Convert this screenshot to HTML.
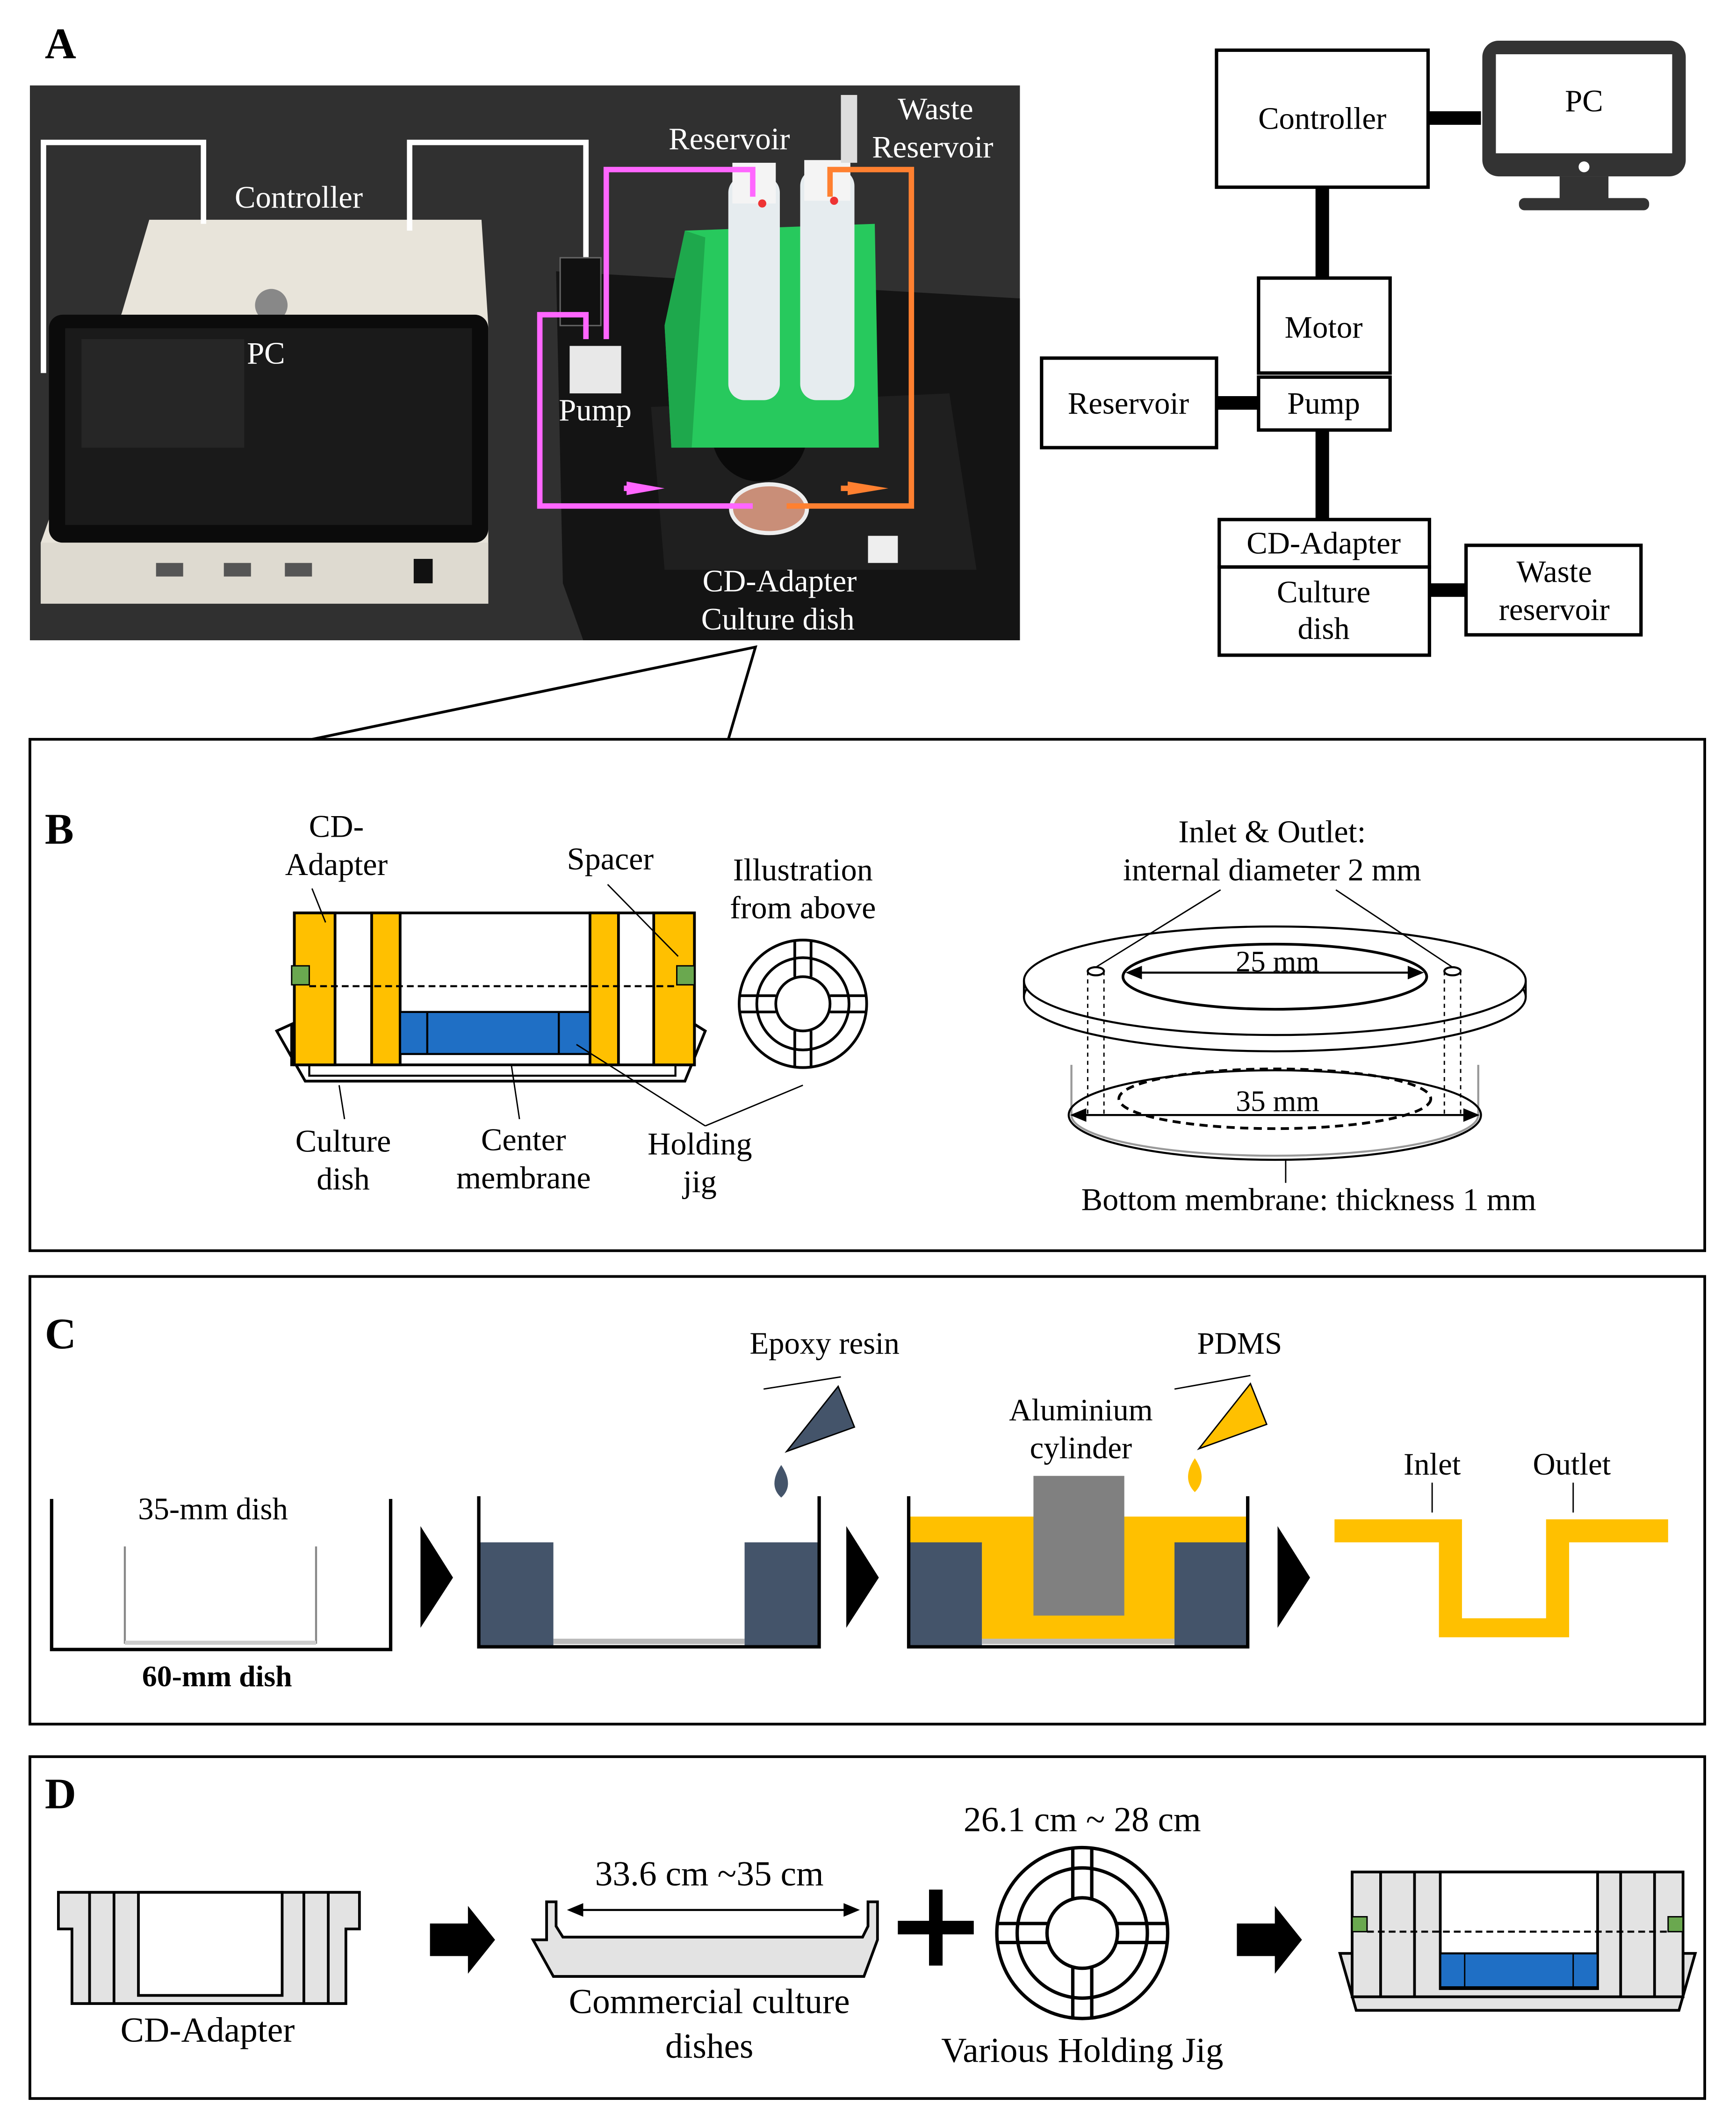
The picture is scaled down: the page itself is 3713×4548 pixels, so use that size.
<!DOCTYPE html>
<html><head><meta charset="utf-8"><style>
html,body{margin:0;padding:0;background:#fff;}
svg{display:block;}
text{font-family:"Liberation Serif",serif;}
</style></head><body>
<svg width="3713" height="4548" viewBox="0 0 1280 1568" xmlns="http://www.w3.org/2000/svg">
<rect width="1280" height="1568" fill="#fff"/>
<text x="33" y="43" font-size="32" font-weight="bold">A</text>
<!-- Photo -->
<rect x="22" y="63" width="730" height="409" fill="#2b2b2b"/>
<rect x="22" y="63" width="730" height="409" fill="#3a3a3a" opacity="0.4"/>
<polygon points="410,200 752,220 752,472 430,472 415,430" fill="#141414"/>
<polygon points="480,300 700,290 720,420 490,420" fill="#1f1f1f"/>
<circle cx="560" cy="320" r="35" fill="#0a0a0a"/>
<polygon points="110,162 355,162 360,240 360,445 30,445 30,400 90,230" fill="#e8e4da"/>
<rect x="30" y="400" width="330" height="45" fill="#dedad0"/>
<circle cx="200" cy="225" r="12" fill="#888"/>
<rect x="36" y="232" width="324" height="168" rx="10" fill="#0b0b0b"/>
<rect x="48" y="242" width="300" height="145" fill="#1a1a1a"/>
<rect x="60" y="250" width="120" height="80" fill="#262626"/>
<rect x="115" y="415" width="20" height="10" fill="#555"/><rect x="165" y="415" width="20" height="10" fill="#555"/><rect x="210" y="415" width="20" height="10" fill="#555"/>
<rect x="305" y="412" width="14" height="18" fill="#111"/>
<polyline points="32,275 32,105 150,105 150,165" fill="none" stroke="#fff" stroke-width="4"/>
<polyline points="302,170 302,105 432,105 432,190" fill="none" stroke="#fff" stroke-width="4"/>
<rect x="413" y="190" width="30" height="50" fill="#111" stroke="#666"/>
<rect x="420" y="255" width="38" height="35" fill="#e8e8e8"/>
<polygon points="505,170 645,165 648,330 495,330 490,240" fill="#27c95d"/>
<polygon points="490,240 505,170 520,175 510,330 495,330" fill="#1ea84c"/>
<rect x="537" y="130" width="38" height="165" rx="12" fill="#e6ecef"/>
<rect x="590" y="125" width="40" height="170" rx="12" fill="#e6ecef"/>
<rect x="540" y="120" width="32" height="30" fill="#f4f4f4"/>
<rect x="593" y="118" width="34" height="30" fill="#f4f4f4"/>
<rect x="620" y="70" width="12" height="50" fill="#ddd"/>
<circle cx="562" cy="150" r="3" fill="#e33"/><circle cx="615" cy="148" r="3" fill="#e33"/>
<ellipse cx="567" cy="375" rx="28" ry="18" fill="#c98e78" stroke="#eee" stroke-width="3"/>
<polyline points="555,145 555,125 447,125 447,250" fill="none" stroke="#ff66ff" stroke-width="4"/>
<polyline points="432,250 432,232 398,232 398,373 555,373" fill="none" stroke="#ff66ff" stroke-width="4"/>
<polygon points="462,355 490,360 462,365" fill="#ff66ff"/><rect x="460" y="358" width="12" height="4" fill="#ff66ff"/>
<polyline points="612,145 612,125 672,125 672,373 580,373" fill="none" stroke="#ff8030" stroke-width="4"/>
<polygon points="625,355 655,360 625,365" fill="#ff8030"/><rect x="620" y="358" width="10" height="4" fill="#ff8030"/>
<rect x="640" y="395" width="22" height="20" fill="#eee"/>
<g fill="#fff" font-size="23">
<text x="173" y="153">Controller</text>
<text x="182" y="268">PC</text>
<text x="493" y="110">Reservoir</text>
<text x="662" y="88">Waste</text>
<text x="643" y="116">Reservoir</text>
<text x="412" y="310">Pump</text>
<text x="518" y="436">CD-Adapter</text>
<text x="517" y="464">Culture dish</text>
</g>
<g stroke="#000" stroke-width="10">
<line x1="1053" y1="87" x2="1092" y2="87"/>
<line x1="975" y1="138" x2="975" y2="205"/>
<line x1="975" y1="317" x2="975" y2="383"/>
<line x1="897" y1="297" x2="928" y2="297"/>
<line x1="1054" y1="435" x2="1081" y2="435"/>
</g>
<g fill="#fff" stroke="#000" stroke-width="2.5">
<rect x="897" y="37" width="156" height="101"/>
<rect x="928" y="205" width="97" height="70"/>
<rect x="928" y="278" width="97" height="39"/>
<rect x="768" y="264" width="129" height="66"/>
<rect x="899" y="383" width="155" height="35"/>
<rect x="899" y="418" width="155" height="65"/>
<rect x="1081" y="402" width="129" height="66"/>
</g>
<rect x="1093" y="30" width="150" height="100" rx="12" fill="#333"/>
<rect x="1103" y="40" width="130" height="73" fill="#fff"/>
<circle cx="1168" cy="123" r="4" fill="#fff"/>
<rect x="1150" y="130" width="36" height="18" fill="#333"/>
<rect x="1120" y="146" width="96" height="9" rx="4" fill="#333"/>
<g font-size="23" text-anchor="middle">
<text x="975" y="95">Controller</text>
<text x="1168" y="82">PC</text>
<text x="976" y="249">Motor</text>
<text x="976" y="305">Pump</text>
<text x="832" y="305">Reservoir</text>
<text x="976" y="408">CD-Adapter</text>
<text x="976" y="444">Culture</text>
<text x="976" y="471">dish</text>
<text x="1146" y="429">Waste</text>
<text x="1146" y="457">reservoir</text>
</g>
<polyline points="230,545 557,477 537,545" fill="none" stroke="#000" stroke-width="2"/>
<g fill="none" stroke="#000" stroke-width="2">
<rect x="22" y="545" width="1235" height="377"/>
<rect x="22" y="941" width="1235" height="330"/>
<rect x="22" y="1295" width="1235" height="252"/>
</g>
<text x="33" y="622" font-size="32" font-weight="bold">B</text>
<text x="33" y="994" font-size="32" font-weight="bold">C</text>
<text x="33" y="1333" font-size="32" font-weight="bold">D</text>
<polygon points="215,755 204,760 225,797 505,797 520,760 512,755 512,785 215,785" fill="#fff" stroke="#000" stroke-width="2"/>
<rect x="228" y="785" width="270" height="8" fill="#fff" stroke="#000" stroke-width="1.5"/>
<rect x="217" y="673" width="295" height="112" fill="#fff" stroke="#000" stroke-width="2"/>
<g fill="#FFC000" stroke="#000" stroke-width="2">
<rect x="217" y="673" width="30" height="112"/>
<rect x="274" y="673" width="21" height="112"/>
<rect x="435" y="673" width="21" height="112"/>
<rect x="482" y="673" width="30" height="112"/>
</g>
<rect x="295" y="746" width="140" height="31" fill="#1f6fc5" stroke="#000" stroke-width="1.5"/>
<line x1="315" y1="746" x2="315" y2="777" stroke="#000" stroke-width="1.5"/>
<line x1="412" y1="746" x2="412" y2="777" stroke="#000" stroke-width="1.5"/>
<rect x="215" y="712" width="13" height="14" fill="#6aa84f" stroke="#000"/>
<rect x="499" y="712" width="13" height="14" fill="#6aa84f" stroke="#000"/>
<line x1="228" y1="727" x2="499" y2="727" stroke="#000" stroke-width="1.5" stroke-dasharray="5,3"/>
<g stroke="#000" stroke-width="1" fill="none">
<line x1="250" y1="800" x2="254" y2="825"/>
<line x1="377" y1="785" x2="383" y2="825"/>
<line x1="425" y1="770" x2="520" y2="830"/><line x1="520" y1="830" x2="592" y2="800"/>
<line x1="230" y1="655" x2="240" y2="680"/>
<line x1="448" y1="652" x2="500" y2="705"/>
</g>
<circle cx="592" cy="740" r="47" fill="#fff" stroke="#000" stroke-width="2"/>
<circle cx="592" cy="740" r="34" fill="none" stroke="#000" stroke-width="2"/>
<circle cx="592" cy="740" r="20" fill="none" stroke="#000" stroke-width="2"/>
<g stroke="#000" stroke-width="2"><line x1="586" y1="694" x2="586" y2="720"/><line x1="598" y1="694" x2="598" y2="720"/><line x1="586" y1="760" x2="586" y2="786"/><line x1="598" y1="760" x2="598" y2="786"/><line x1="546" y1="734" x2="572" y2="734"/><line x1="546" y1="746" x2="572" y2="746"/><line x1="612" y1="734" x2="638" y2="734"/><line x1="612" y1="746" x2="638" y2="746"/></g>
<g font-size="23.5" text-anchor="middle">
<text x="248" y="617">CD-</text><text x="248" y="645">Adapter</text>
<text x="450" y="641">Spacer</text>
<text x="592" y="649">Illustration</text><text x="592" y="677">from above</text>
<text x="253" y="849">Culture</text><text x="253" y="877">dish</text>
<text x="386" y="848">Center</text><text x="386" y="876">membrane</text>
<text x="516" y="851">Holding</text><text x="516" y="879">jig</text>
</g>
<g fill="none" stroke="#000" stroke-width="1.5">
<path d="M790,785 L790,822 A150,30 0 0 0 1090,822 L1090,785" stroke="#999"/>
<ellipse cx="940" cy="822" rx="152" ry="33"/>
<ellipse cx="940" cy="810" rx="115" ry="22" stroke-dasharray="6,4" stroke-width="2"/>
<ellipse cx="940" cy="735" rx="185" ry="40" fill="#fff"/>
<ellipse cx="940" cy="723" rx="185" ry="40" fill="#fff"/>
<ellipse cx="940" cy="720" rx="112" ry="24" stroke-width="2"/>
<line x1="755" y1="723" x2="755" y2="735"/><line x1="1125" y1="723" x2="1125" y2="735"/>
<ellipse cx="808" cy="716" rx="6" ry="3"/><ellipse cx="1071" cy="716" rx="6" ry="3"/>
<g stroke-dasharray="3,3" stroke-width="1"><line x1="802" y1="716" x2="802" y2="822"/><line x1="814" y1="716" x2="814" y2="822"/><line x1="1065" y1="716" x2="1065" y2="822"/><line x1="1077" y1="716" x2="1077" y2="822"/></g>
<line x1="808" y1="713" x2="900" y2="656" stroke-width="1"/>
<line x1="1071" y1="713" x2="985" y2="656" stroke-width="1"/>
<line x1="948" y1="855" x2="948" y2="872" stroke-width="1"/>
</g>
<g stroke="#000" stroke-width="1.5"><line x1="835" y1="717" x2="1045" y2="717"/><line x1="795" y1="822" x2="1085" y2="822"/></g>
<polygon points="830,717 842,712 842,722"/><polygon points="1050,717 1038,712 1038,722"/>
<polygon points="789,822 801,817 801,827"/><polygon points="1091,822 1079,817 1079,827"/>
<g font-size="23.5" text-anchor="middle">
<text x="938" y="621">Inlet &amp; Outlet:</text>
<text x="938" y="649">internal diameter 2 mm</text>
<text x="942" y="716" font-size="22">25 mm</text>
<text x="942" y="819" font-size="22">35 mm</text>
<text x="965" y="892">Bottom membrane: thickness 1 mm</text>
</g>
<!-- C -->
<polyline points="38,1105 38,1216 288,1216 288,1105" fill="none" stroke="#000" stroke-width="2.5"/>
<polyline points="92,1140 92,1211 233,1211 233,1140" fill="none" stroke="#888" stroke-width="1.5"/>
<line x1="92" y1="1211" x2="233" y2="1211" stroke="#ccc" stroke-width="3"/>
<text x="157" y="1120" font-size="23" text-anchor="middle">35-mm dish</text>
<text x="160" y="1243" font-size="22" font-weight="bold" text-anchor="middle">60-mm dish</text>
<polygon points="310,1125 334,1163 310,1200"/>
<rect x="354" y="1137" width="54" height="76" fill="#44546A"/>
<rect x="549" y="1137" width="54" height="76" fill="#44546A"/>
<line x1="408" y1="1210" x2="549" y2="1210" stroke="#bbb" stroke-width="4"/>
<polyline points="353,1103 353,1214 604,1214 604,1103" fill="none" stroke="#000" stroke-width="2.5"/>
<polygon points="580,1070 618,1022 630,1052" fill="#44546A" stroke="#000" stroke-width="1"/>
<line x1="563" y1="1024" x2="620" y2="1015" stroke="#000"/>
<path d="M576,1080 Q566,1095 576,1104 Q586,1095 576,1080Z" fill="#44546A"/>
<text x="608" y="998" font-size="23" text-anchor="middle">Epoxy resin</text>
<polygon points="624,1125 648,1163 624,1200"/>
<rect x="670" y="1118" width="250" height="20" fill="#FFC000"/>
<rect x="724" y="1135" width="142" height="75" fill="#FFC000"/>
<rect x="670" y="1137" width="54" height="76" fill="#44546A"/>
<rect x="866" y="1137" width="54" height="76" fill="#44546A"/>
<line x1="724" y1="1210" x2="866" y2="1210" stroke="#bbb" stroke-width="4"/>
<rect x="762" y="1088" width="67" height="103" fill="#808080"/>
<polyline points="670,1103 670,1214 920,1214 920,1103" fill="none" stroke="#000" stroke-width="2.5"/>
<polygon points="884,1068 922,1020 934,1050" fill="#FFC000" stroke="#000" stroke-width="1"/>
<line x1="866" y1="1024" x2="922" y2="1014" stroke="#000"/>
<path d="M881,1075 Q871,1090 881,1100 Q891,1090 881,1075Z" fill="#FFC000"/>
<text x="914" y="998" font-size="23" text-anchor="middle">PDMS</text>
<text x="797" y="1047" font-size="23" text-anchor="middle">Aluminium</text>
<text x="797" y="1075" font-size="23" text-anchor="middle">cylinder</text>
<polygon points="942,1125 966,1163 942,1200"/>
<path d="M984,1120 H1078 V1193 H1140 V1120 H1230 V1137 H1157 V1207 H1061 V1137 H984 Z" fill="#FFC000"/>
<line x1="1056" y1="1093" x2="1056" y2="1115" stroke="#000"/>
<line x1="1160" y1="1093" x2="1160" y2="1115" stroke="#000"/>
<text x="1056" y="1087" font-size="23" text-anchor="middle">Inlet</text>
<text x="1159" y="1087" font-size="23" text-anchor="middle">Outlet</text>
<!-- D -->
<path d="M43,1395 L265,1395 L265,1422 L255,1422 L255,1477 L53,1477 L53,1422 L43,1422Z" fill="#e3e3e3" stroke="#000" stroke-width="2"/>
<rect x="102" y="1395" width="106" height="76" fill="#fff" stroke="#000" stroke-width="2"/>
<g stroke="#000" stroke-width="2"><line x1="66" y1="1395" x2="66" y2="1477"/><line x1="84" y1="1395" x2="84" y2="1477"/><line x1="224" y1="1395" x2="224" y2="1477"/><line x1="242" y1="1395" x2="242" y2="1477"/></g>
<text x="153" y="1505" font-size="26" text-anchor="middle">CD-Adapter</text>
<polygon points="317,1418 345,1418 345,1405 365,1430 345,1455 345,1442 317,1442"/>
<path d="M403,1402 L410,1402 L410,1420 L415,1428 L636,1428 L640,1420 L640,1402 L647,1402 L647,1430 L637,1457 L408,1457 L393,1430 L403,1430Z" fill="#e3e3e3" stroke="#000" stroke-width="2"/>
<line x1="420" y1="1408" x2="632" y2="1408" stroke="#000" stroke-width="1.5"/>
<polygon points="418,1408 430,1403 430,1413"/><polygon points="634,1408 622,1403 622,1413"/>
<text x="523" y="1390" font-size="26" text-anchor="middle">33.6 cm ~35 cm</text>
<text x="523" y="1484" font-size="26" text-anchor="middle">Commercial culture</text>
<text x="523" y="1517" font-size="26" text-anchor="middle">dishes</text>
<rect x="685" y="1393" width="10" height="56"/><rect x="662" y="1416" width="56" height="10"/>
<circle cx="798" cy="1425" r="63" fill="#fff" stroke="#000" stroke-width="2.5"/>
<circle cx="798" cy="1425" r="48" fill="none" stroke="#000" stroke-width="2.5"/>
<circle cx="798" cy="1425" r="26" fill="none" stroke="#000" stroke-width="2.5"/>
<g stroke="#000" stroke-width="2.5"><line x1="791" y1="1362" x2="791" y2="1399"/><line x1="805" y1="1362" x2="805" y2="1399"/><line x1="791" y1="1451" x2="791" y2="1488"/><line x1="805" y1="1451" x2="805" y2="1488"/><line x1="735" y1="1418" x2="772" y2="1418"/><line x1="735" y1="1432" x2="772" y2="1432"/><line x1="824" y1="1418" x2="861" y2="1418"/><line x1="824" y1="1432" x2="861" y2="1432"/></g>
<text x="798" y="1350" font-size="26" text-anchor="middle">26.1 cm ~ 28 cm</text>
<text x="798" y="1520" font-size="26" text-anchor="middle">Various Holding Jig</text>
<polygon points="912,1418 940,1418 940,1405 960,1430 940,1455 940,1442 912,1442"/>
<path d="M997,1440 L988,1440 L1000,1482 L1238,1482 L1250,1440 L1241,1440 L1241,1472 L997,1472Z" fill="#e3e3e3" stroke="#000" stroke-width="2"/>
<rect x="997" y="1380" width="244" height="92" fill="#e3e3e3" stroke="#000" stroke-width="2"/>
<rect x="1062" y="1380" width="116" height="86" fill="#fff" stroke="#000" stroke-width="2"/>
<g stroke="#000" stroke-width="2"><line x1="1018" y1="1380" x2="1018" y2="1472"/><line x1="1043" y1="1380" x2="1043" y2="1472"/><line x1="1195" y1="1380" x2="1195" y2="1472"/><line x1="1220" y1="1380" x2="1220" y2="1472"/></g>
<rect x="1062" y="1440" width="116" height="25" fill="#1f6fc5" stroke="#000" stroke-width="1.5"/>
<line x1="1080" y1="1440" x2="1080" y2="1465" stroke="#000"/><line x1="1160" y1="1440" x2="1160" y2="1465" stroke="#000"/>
<rect x="997" y="1413" width="11" height="11" fill="#6aa84f" stroke="#000"/>
<rect x="1230" y="1413" width="11" height="11" fill="#6aa84f" stroke="#000"/>
<line x1="1008" y1="1424" x2="1230" y2="1424" stroke="#000" stroke-width="1.5" stroke-dasharray="5,3"/>
</svg>
</body></html>
